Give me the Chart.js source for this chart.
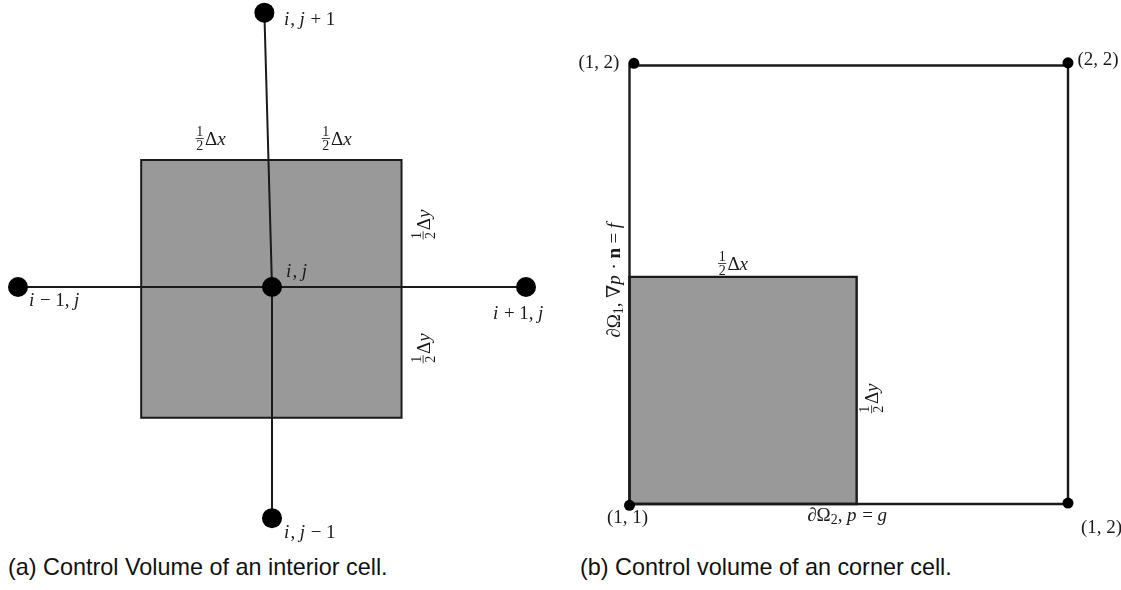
<!DOCTYPE html>
<html lang="en">
<head>
  <meta charset="UTF-8">
  <title>Control volumes</title>
  <script src="https://cdn.jsdelivr.net/npm/chart.js@4.4.0/dist/chart.umd.js"></script>
  <style>
    * { margin: 0; padding: 0; box-sizing: border-box; }
    body { background: #fff; }
    #fig { position: relative; width: 1121px; height: 590px; overflow: hidden; }
    canvas { position: absolute; top: 0; }
    .cap {
      position: absolute;
      top: 556px;
      font-family: "Liberation Sans", Arial, sans-serif;
      font-size: 23.4px;
      line-height: 23px;
      color: #111;
      white-space: nowrap;
    }
  </style>
</head>
<body>
  <div id="fig">
    <canvas id="cellA" width="560" height="550" style="left:0"></canvas>
    <canvas id="cellB" width="561" height="550" style="left:560px"></canvas>
    <div class="cap" style="left:8px">(a) Control Volume of an interior cell.</div>
    <div class="cap" style="left:580px">(b) Control volume of an corner cell.</div>
  </div>

  <script>
    // (a) five-point stencil, grid units (node spacing = 1)
    const nodeNamesA = ['i, j', 'i − 1, j', 'i + 1, j', 'i, j + 1', 'i, j − 1'];
    const nodeXA = [0, -1, 1, -0.03, 0];
    const nodeYA = [0, 0, 0, 1.08, -0.91];
    const edgesA = [[1, 2], [3, 0], [0, 4]];
    const cellXA = [-0.515, 0.51];
    const cellYA = [-0.515, 0.5];

    // (b) corner cell, node indices as coordinates
    const nodeNamesB = ['(1, 1)', '(1, 2)', '(2, 2)', '(1, 2)'];
    const nodeXB = [1, 1.01, 2, 2];
    const nodeYB = [0.997, 2.005, 2.006, 1.002];
    const outerXB = [1, 2];
    const outerYB = [1, 2];
    const cellXB = [1, 1.518];
    const cellYB = [1, 1.518];

    const INK = '#1a1a1a';
    const GREY = '#999999';
    const SERIF = '"Liberation Serif", "DejaVu Serif", serif';
    const FS = 19;

    // tiny math typesetter: letters italic, ½ as stacked fraction, _x subscript, *x bold
    function tokenize(str) {
      const out = [];
      for (let i = 0; i < str.length; i++) {
        const c = str[i];
        if (c === '½') out.push({ k: 'frac', n: '1', d: '2' });
        else if (c === '_') out.push({ k: 'sub', s: str[++i] });
        else if (c === '*') out.push({ k: 'bf', s: str[++i] });
        else if (c === ' ') out.push({ k: 'sp' });
        else if (/[a-z]/i.test(c)) out.push({ k: 'it', s: c });
        else out.push({ k: 'rm', s: c });
      }
      return out;
    }

    function fontFor(t, fs) {
      if (t.k === 'it') return `italic ${fs}px ${SERIF}`;
      if (t.k === 'bf') return `bold ${fs}px ${SERIF}`;
      if (t.k === 'sub' || t.k === 'frac') return `${Math.round(fs * 0.74)}px ${SERIF}`;
      return `${fs}px ${SERIF}`;
    }

    function tokWidth(ctx, t, fs) {
      if (t.k === 'sp') return fs * 0.24;
      ctx.font = fontFor(t, fs);
      if (t.k === 'frac') {
        return Math.max(ctx.measureText(t.n).width, ctx.measureText(t.d).width) + fs * 0.18;
      }
      return ctx.measureText(t.s).width + (t.k === 'it' ? fs * 0.06 : 0);
    }

    function drawMath(ctx, str, x, y, align, rotate, fs) {
      const toks = tokenize(str);
      const w = toks.reduce((s, t) => s + tokWidth(ctx, t, fs), 0);
      ctx.save();
      ctx.translate(x, y);
      if (rotate) ctx.rotate(-Math.PI / 2);
      ctx.fillStyle = INK;
      ctx.textBaseline = 'alphabetic';
      ctx.textAlign = 'left';
      let cx = align === 'center' ? -w / 2 : align === 'right' ? -w : 0;
      for (const t of toks) {
        const tw = tokWidth(ctx, t, fs);
        if (t.k === 'frac') {
          const bar = -fs * 0.34;
          const nw = ctx.measureText(t.n).width;
          const dw = ctx.measureText(t.d).width;
          ctx.fillText(t.n, cx + (tw - nw) / 2, bar - fs * 0.12);
          ctx.fillText(t.d, cx + (tw - dw) / 2, bar + fs * 0.62);
          ctx.fillRect(cx + fs * 0.06, bar - 0.4, tw - fs * 0.12, 0.8);
        } else if (t.k === 'sub') {
          ctx.fillText(t.s, cx, fs * 0.15);
        } else if (t.k !== 'sp') {
          ctx.fillText(t.s, cx, 0);
        }
        cx += tw;
      }
      ctx.restore();
    }

    function labelPlugin(items) {
      return {
        id: 'mathLabels',
        afterDatasetsDraw(chart) {
          const { ctx, scales: { x, y } } = chart;
          items.forEach(l => {
            const px = x.getPixelForValue(l.at[0]) + l.dx;
            const py = y.getPixelForValue(l.at[1]) + l.dy;
            drawMath(ctx, l.text, px, py, l.align || 'left', l.rotate, FS);
          });
        }
      };
    }

    const pt = (x, y) => ({ x, y });
    const rectPath = (xs, ys) => [pt(xs[0], ys[0]), pt(xs[1], ys[0]), pt(xs[1], ys[1]), pt(xs[0], ys[1]), pt(xs[0], ys[0])];

    function fillSet(xs, ys) {
      return {
        data: [pt(xs[0], ys[1]), pt(xs[1], ys[1])],
        fill: { value: ys[0] },
        backgroundColor: GREY,
        borderWidth: 0,
        pointRadius: 0,
        order: 4
      };
    }

    function strokeSet(data, width, order) {
      return {
        data,
        fill: false,
        borderColor: INK,
        borderWidth: width,
        borderJoinStyle: 'miter',
        borderCapStyle: 'square',
        pointRadius: 0,
        order
      };
    }

    function dotSet(xs, ys, r) {
      return {
        data: xs.map((x, i) => pt(x, ys[i])),
        showLine: false,
        pointRadius: r,
        pointBackgroundColor: '#000',
        pointBorderWidth: 0,
        order: 0
      };
    }

    // view: data point `origin` sits at canvas pixel `originPx`, `unit` pixels per grid unit
    function drawDiagram(id, datasets, view, labels) {
      const canvas = document.getElementById(id);
      const w = canvas.width, h = canvas.height;
      const [ox, oy] = view.origin;
      const [px, py] = view.originPx;
      const u = view.unit;
      new Chart(canvas, {
        type: 'line',
        data: { datasets },
        options: {
          responsive: false,
          animation: false,
          events: [],
          layout: { padding: 0, autoPadding: false },
          elements: { line: { tension: 0 } },
          plugins: { legend: { display: false }, tooltip: { enabled: false } },
          scales: {
            x: { type: 'linear', display: false, min: ox - px / u, max: ox + (w - px) / u },
            y: { type: 'linear', display: false, min: oy - (h - py) / u, max: oy + py / u }
          }
        },
        plugins: [labelPlugin(labels)]
      });
    }

    // (a) interior cell
    const setsA = [
      fillSet(cellXA, cellYA),
      strokeSet(rectPath(cellXA, cellYA), 2, 3),
      ...edgesA.map(([a, b]) => strokeSet([pt(nodeXA[a], nodeYA[a]), pt(nodeXA[b], nodeYA[b])], 2, 2)),
      dotSet(nodeXA, nodeYA, 10)
    ];
    const nodeLabelOffsetA = [[14, -10], [11, 19], [-33, 32], [19.5, 12], [12, 20]];
    const labelsA = nodeNamesA.map((text, i) => ({
      text, at: [nodeXA[i], nodeYA[i]], dx: nodeLabelOffsetA[i][0], dy: nodeLabelOffsetA[i][1]
    })).concat([
      { text: '½Δx', at: [(cellXA[0] + nodeXA[0]) / 2, cellYA[1]], dx: 4, dy: -15, align: 'center' },
      { text: '½Δx', at: [(nodeXA[0] + cellXA[1]) / 2, cellYA[1]], dx: 0, dy: -15, align: 'center' },
      { text: '½Δy', at: [cellXA[1], (cellYA[1] + nodeYA[0]) / 2], dx: 28, dy: 1, align: 'center', rotate: true },
      { text: '½Δy', at: [cellXA[1], (nodeYA[0] + cellYA[0]) / 2], dx: 28, dy: -4, align: 'center', rotate: true }
    ]);
    drawDiagram('cellA', setsA, { origin: [0, 0], originPx: [272, 287], unit: 254 }, labelsA);

    // (b) corner cell
    const setsB = [
      fillSet(cellXB, cellYB),
      strokeSet(rectPath(cellXB, cellYB), 2.4, 3),
      strokeSet(rectPath(outerXB, outerYB), 2.4, 2),
      dotSet(nodeXB, nodeYB, 5.5)
    ];
    const nodeLabelOffsetB = [[-22.5, 18], [-14.5, 4.5], [9.5, 2], [13, 30]];
    const nodeLabelAlignB = ['left', 'right', 'left', 'left'];
    const labelsB = nodeNamesB.map((text, i) => ({
      text, at: [nodeXB[i], nodeYB[i]], dx: nodeLabelOffsetB[i][0], dy: nodeLabelOffsetB[i][1], align: nodeLabelAlignB[i]
    })).concat([
      { text: '∂Ω_2, p = g', at: [cellXB[1], cellYB[0]], dx: -49.5, dy: 17 },
      { text: '½Δx', at: [(cellXB[0] + cellXB[1]) / 2, cellYB[1]], dx: -10, dy: -7, align: 'center' },
      { text: '½Δy', at: [cellXB[1], (cellYB[0] + cellYB[1]) / 2], dx: 21.5, dy: 8, align: 'center', rotate: true },
      { text: '∂Ω_1, ∇p · *n = f', at: [outerXB[0], (outerYB[0] + outerYB[1]) / 2], dx: -9.5, dy: -5, align: 'center', rotate: true }
    ]);
    drawDiagram('cellB', setsB, { origin: [1, 1], originPx: [69.5, 504], unit: 438.5 }, labelsB);
  </script>
</body>
</html>
